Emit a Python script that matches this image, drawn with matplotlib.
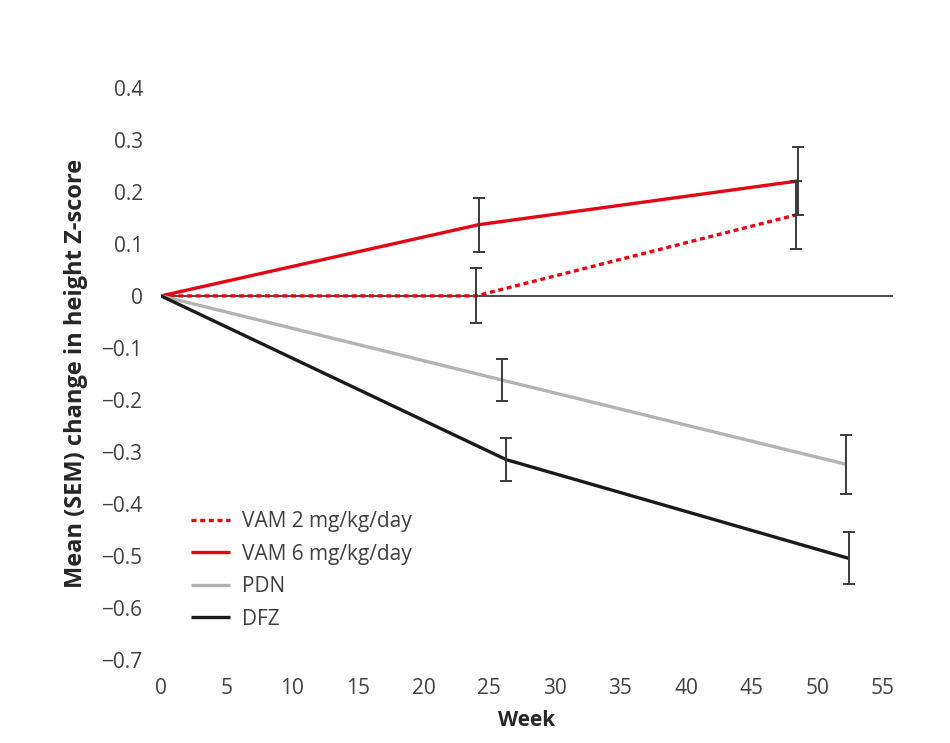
import matplotlib
matplotlib.use("Agg")
import matplotlib.pyplot as plt

plt.rcParams['font.family'] = ['Open Sans', 'DejaVu Sans']

# Data
vam2_weeks = [0, 24, 48.4]
vam2_vals = [0.0, 0.0, 0.156]
vam2_sem = [0.0, 0.053, 0.065]

vam6_weeks = [0, 24.2, 48.5]
vam6_vals = [0.0, 0.137, 0.221]
vam6_sem = [0.0, 0.052, 0.066]

pdn_weeks = [0, 26.0, 52.2]
pdn_vals = [0.0, -0.162, -0.324]
pdn_sem = [0.0, 0.041, 0.057]

dfz_weeks = [0, 26.3, 52.4]
dfz_vals = [0.0, -0.315, -0.505]
dfz_sem = [0.0, 0.041, 0.050]

xticks = [0, 5, 10, 15, 20, 25, 30, 35, 40, 45, 50, 55]
yticks = [0.4, 0.3, 0.2, 0.1, 0, -0.1, -0.2, -0.3, -0.4, -0.5, -0.6, -0.7]

RED = '#e30613'
GRAY = '#b3b3b3'
BLACK = '#1a1a1a'
ERR = '#3a3a3a'

fig = plt.figure(figsize=(9.5, 7.43), dpi=100)
ax = fig.add_axes([0.1695, 0.112, 0.7705, 0.7696])

ax.axhline(0, color='#2a2a2a', lw=1.2, zorder=1)

def series(w, v, s, color, ls, label):
    ax.plot(w, v, color=color, lw=2.4, ls=ls, label=label, zorder=3,
            solid_capstyle='butt')
    ax.errorbar(w[1:], v[1:], yerr=s[1:], fmt='none', ecolor=ERR,
                elinewidth=1.4, capsize=4.5, capthick=1.4, zorder=4)

series(vam2_weeks, vam2_vals, vam2_sem, RED, (0, (1.5, 1.1)), 'VAM 2 mg/kg/day')
series(vam6_weeks, vam6_vals, vam6_sem, RED, '-', 'VAM 6 mg/kg/day')
series(pdn_weeks, pdn_vals, pdn_sem, GRAY, '-', 'PDN')
series(dfz_weeks, dfz_vals, dfz_sem, BLACK, '-', 'DFZ')

ax.set_xlim(0, 55.76)
ax.set_ylim(-0.7, 0.4)
ax.set_xticks(xticks)
ax.set_xticklabels([str(t) for t in xticks])
ax.set_yticks(yticks)
ax.set_yticklabels([('\u22120' + f'{abs(t):.1f}'[1:]) if t < 0 else ('0' if t == 0 else f'{t:.1f}') for t in yticks])
for s in ax.spines.values():
    s.set_visible(False)
ax.tick_params(length=0, labelsize=15, labelcolor='#404040', pad=13)
ax.tick_params(axis='x', pad=13)

ax.set_xlabel('Week', fontsize=15, fontweight='bold', color='#262626', labelpad=8)
ax.set_ylabel('Mean (SEM) change in height Z-score', fontsize=17,
              fontweight='bold', color='#262626', labelpad=10)

leg = ax.legend(loc='lower left', bbox_to_anchor=(0.015, 0.02), frameon=False,
                fontsize=15, handlelength=1.9, handletextpad=0.55,
                labelspacing=0.55, labelcolor='#404040')

fig.savefig('out.png', dpi=100, facecolor='white')
